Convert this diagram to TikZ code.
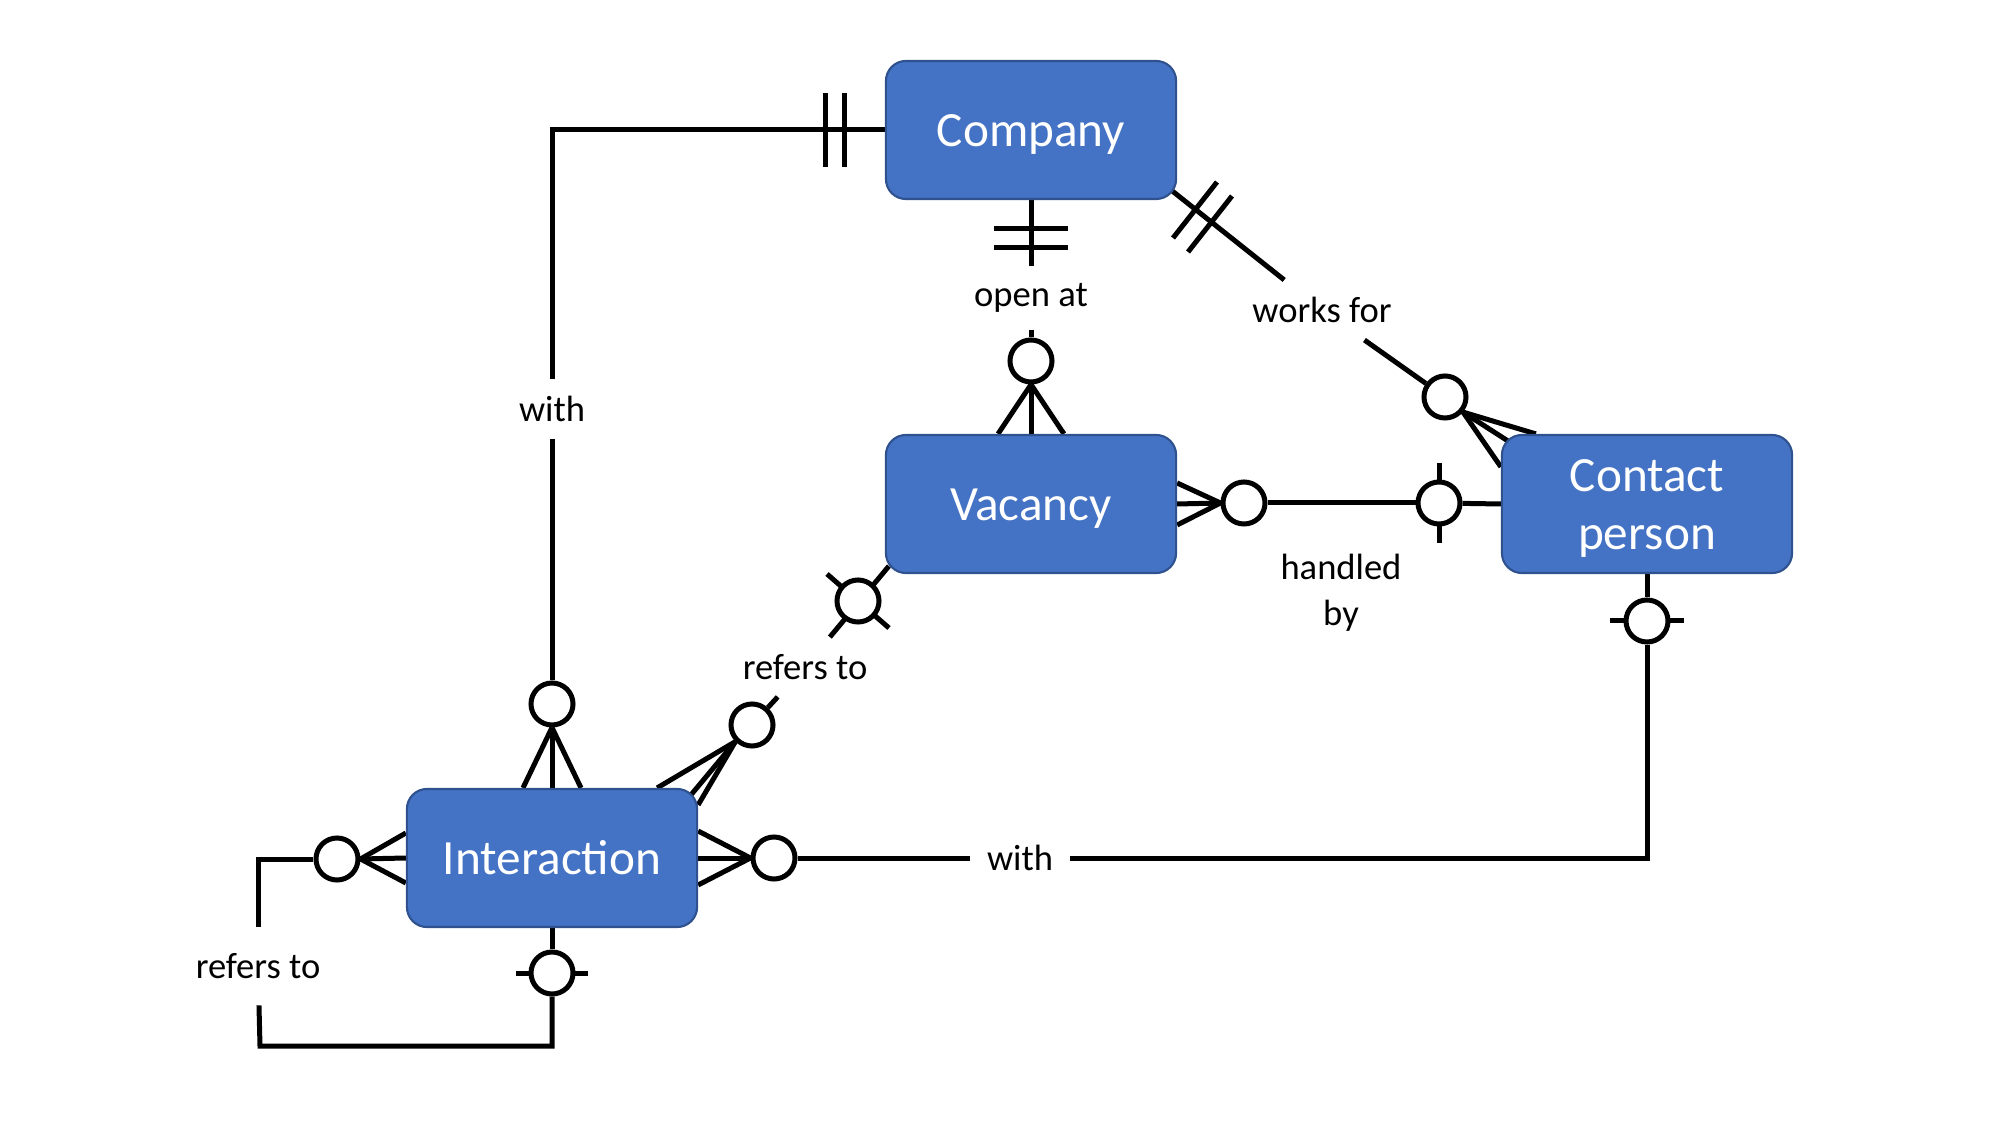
\documentclass[tikz,border=0pt]{standalone}
\usepackage{fontspec}
\setmainfont{Carlito}
\usetikzlibrary{calc}
\definecolor{entityblue}{HTML}{4472C4}
\definecolor{entityline}{HTML}{2F528F}
\pgfdeclarelayer{bg}
\pgfsetlayers{bg,main}

\begin{document}
\begin{tikzpicture}[x=0.01cm, y=-0.01cm,
        entity/.style={draw=entityline, line width=0.6pt, fill=entityblue, rounded corners=0.2cm,
            minimum width=2.9cm, minimum height=1.38cm, text=white, align=center,
            text height=13.3pt, text depth=3.8pt,
            font=\fontsize{14}{16.5}\selectfont},
        rel/.style={font=\fontsize{10.4}{13}\selectfont, inner sep=0.165cm, align=center},
        opt/.style={circle, draw, fill=white, line width=0.05cm, minimum size=0.42cm, inner sep=0pt},
        conn/.style={line width=0.05cm}]
        \useasboundingbox (0,0) rectangle (2000,1125);

        % entities
        \node [entity] (comp) at (1031,130) {Company};
        \node [entity] (vac) at (1031,504) {Vacancy};
        \node [entity, text height=29.8pt, inner ysep=0pt] (cont) at (1647,504) {Contact\\person};
        \node [entity] (inter) at (552,858) {Interaction};

        % optional ends (circles)
        \node [opt] (oiw) at (552,704) {};
        \node [opt] (ovo) at (1031,361) {};
        \node [opt] (owf) at (1445,397) {};
        \node [opt] (ohv) at (1244,503) {};
        \node [opt] (ohc) at (1439,503) {};
        \node [opt] (ocw) at (1647,621) {};
        \node [opt] (oiw2) at (774,858) {};
        \node [opt] (ovr) at (858,601) {};
        \node [opt] (oir) at (752,725) {};
        \node [opt] (oil) at (337,859) {};
        \node [opt] (oib) at (552,973) {};

        % relationship names
        \node [rel] (lwith1) at (552,409) {with};
        \node [rel] (lopen) at (1031,298) {open at};
        \node [rel] (lwf) at (1322,310) {works for};
        \node [rel] (lhand) at (1341,593) {handled\\by};
        \node [rel] (lwith2) at (1020,858) {with};
        \node [rel] (lref1) at (805,667) {refers to};
        \node [rel, inner ysep=0.26cm] (lref2) at (258,966) {refers to};
        \coordinate (loopbl) at (260,1046);

        \begin{pgfonlayer}{bg}
        \begin{scope}[conn]
            % Company -- Interaction
            \draw (comp.west) -| (lwith1);
            \draw (lwith1) -- (oiw);
            \draw ($(comp.west)+(-59,-37)$) -- ++(0,74);
            \draw ($(comp.west)+(-40,-37)$) -- ++(0,74);
            \draw (oiw.south) -- ($(inter.north)+(-29,0)$);
            \draw (oiw.south) -- (inter.north);
            \draw (oiw.south) -- ($(inter.north)+(29,0)$);

            % Company -- Vacancy
            \draw (comp.south) -- (lopen);
            \draw (lopen) -- (ovo);
            \draw ($(comp.south)+(-37,28)$) -- ++(74,0);
            \draw ($(comp.south)+(-37,47)$) -- ++(74,0);
            \draw (ovo.south) -- ($(vac.north)+(-33,0)$);
            \draw (ovo.south) -- (vac.north);
            \draw (ovo.south) -- ($(vac.north)+(33,0)$);

            % Company -- Contact person
            \draw ($(comp.south east)+(-6,-10)$) -- (lwf);
            \draw (lwf) -- (owf);
            \draw (1173,238) -- (1217,182);
            \draw (1188,252) -- (1232,196);
            \draw (owf.-40) -- ($(cont.north west)+(35,0)$);
            \draw (owf.-40) -- ($(cont.north west)+(7,7)$);
            \draw (owf.-40) -- ($(cont.north west)+(0,33)$);

            % Vacancy -- Contact person
            \draw (ohv) -- (ohc);
            \draw (ohc) -- (cont.west);
            \draw ($(ohc)+(0,-40)$) -- ($(ohc)+(0,40)$);
            \draw (ohv.west) -- ($(vac.east)+(0,-21)$);
            \draw (ohv.west) -- (vac.east);
            \draw (ohv.west) -- ($(vac.east)+(0,21)$);

            % Contact person -- Interaction
            \draw (cont.south) -- (ocw);
            \draw (ocw) |- (lwith2);
            \draw (lwith2) -- (oiw2);
            \draw ($(ocw)+(-37,0)$) -- ($(ocw)+(37,0)$);
            \draw (oiw2.west) -- ($(inter.east)+(0,-27)$);
            \draw (oiw2.west) -- (inter.east);
            \draw (oiw2.west) -- ($(inter.east)+(0,27)$);

            % Interaction -- Vacancy
            \draw ($(vac.south west)+(4,-8)$) -- (lref1);
            \draw (lref1) -- (oir);
            \draw ($(ovr)+(-31,-27)$) -- ($(ovr)+(31,27)$);
            \draw (oir.-135) -- ($(inter.north east)+(-41,0)$);
            \draw (oir.-135) -- ($(inter.north east)+(-8,8)$);
            \draw (oir.-135) -- ($(inter.north east)+(0,17)$);

            % Interaction -- Interaction
            \draw (oil) -| (lref2);
            \draw (lref2) -- (loopbl) -| (oib);
            \draw (oib) -- (inter.south);
            \draw ($(oib)+(-36,0)$) -- ($(oib)+(36,0)$);
            \draw (oil.east) -- ($(inter.west)+(0,-25)$);
            \draw (oil.east) -- (inter.west);
            \draw (oil.east) -- ($(inter.west)+(0,25)$);
        \end{scope}
        \end{pgfonlayer}
    \end{tikzpicture}
\end{document}
